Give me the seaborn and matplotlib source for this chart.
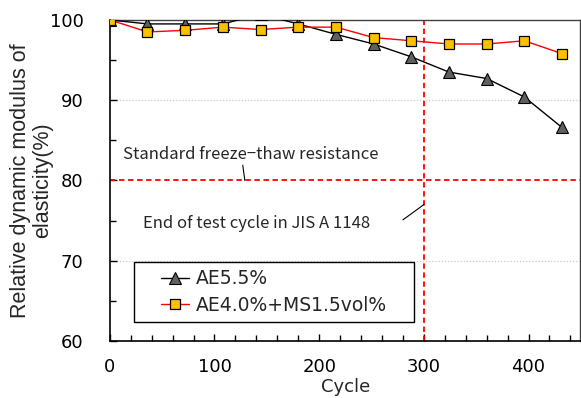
import pandas as pd
import seaborn as sns
import matplotlib.pyplot as plt
from matplotlib.ticker import MultipleLocator
from matplotlib.patches import Rectangle
from matplotlib.font_manager import FontProperties

# data
cycles = [0, 36, 72, 108, 144, 180, 216, 252, 288, 324, 360, 396, 432]
ae55 = [100.0, 99.5, 99.5, 99.5, 100.7, 99.5, 98.2, 97.0, 95.4, 93.5, 92.7, 90.4, 86.6]
ae40_ms = [100.0, 98.5, 98.7, 99.1, 98.8, 99.1, 99.1, 97.8, 97.4, 97.0, 97.0, 97.4, 95.8]
labels = ["AE5.5%", "AE4.0%+MS1.5vol%"]

df1 = pd.DataFrame({"Cycle": cycles, "E": ae55, "series": labels[0]})
df2 = pd.DataFrame({"Cycle": cycles, "E": ae40_ms, "series": labels[1]})

sns.set_style("ticks")
plt.rcParams['font.family'] = ['DejaVu Sans']

fig = plt.figure(figsize=(5.81, 3.98), dpi=100)
ax = fig.add_axes([0.189, 0.143, 0.809, 0.807])

# grid and reference lines
for yv in [70, 90]:
    ax.axhline(yv, color="#c8c8c8", lw=0.9, ls=(0, (1, 1.5)), zorder=0)
ax.axhline(80, color="#ff0000", lw=1.3, ls=(0, (3, 2)), zorder=1)
ax.axvline(300, color="#ff0000", lw=1.3, ls=(0, (3, 2)), zorder=1)

sns.lineplot(data=df1, x="Cycle", y="E", ax=ax, color="black", lw=1.0,
             marker="^", markersize=8, markerfacecolor="#606060",
             markeredgecolor="black", markeredgewidth=0.8, label=labels[0], zorder=3)
sns.lineplot(data=df2, x="Cycle", y="E", ax=ax, color="#ff0000", lw=1.0,
             marker="s", markersize=7, markerfacecolor="#ffc000",
             markeredgecolor="black", markeredgewidth=0.9, label=labels[1], zorder=4)

ax.set_xlim(0, 449)
ax.set_ylim(60, 100)
ax.xaxis.set_major_locator(MultipleLocator(100))
ax.xaxis.set_minor_locator(MultipleLocator(20))
ax.yaxis.set_major_locator(MultipleLocator(10))
ax.yaxis.set_minor_locator(MultipleLocator(5))
ax.tick_params(axis="both", which="both", direction="in", labelsize=13, colors="black")
ax.tick_params(axis="both", which="major", length=5, width=1)
ax.tick_params(axis="both", which="minor", length=4, width=1)
ax.tick_params(axis="x", which="both", pad=12)
ax.tick_params(axis="y", which="both", pad=19)
for side in ["left", "bottom"]:
    ax.spines[side].set_color("black")
    ax.spines[side].set_linewidth(1.2)
for side in ["top", "right"]:
    ax.spines[side].set_color("#404040")
    ax.spines[side].set_linewidth(1.0)

ax.set_xlabel("Cycle", fontsize=13)
ax.xaxis.set_label_coords(0.502, -0.115)
ylab_font = FontProperties(family="Liberation Sans", size=15.5)
ax.set_ylabel("Relative dynamic modulus of\nelasticity(%)", fontproperties=ylab_font,
              linespacing=1.05)
ax.yaxis.set_label_coords(-0.121, 0.5)

jp = ['Noto Sans CJK JP', 'DejaVu Sans']
ax.text(12.4, 83.2, "Standard freeze−thaw resistance", fontsize=12, family=jp,
        va="center", ha="left")
ax.plot([127, 129], [81.9, 80.0], color="black", lw=0.8)
ax.text(31.5, 74.6, "End of test cycle in JIS A 1148", fontsize=12, family=jp,
        va="center", ha="left")
ax.plot([280, 300], [75.1, 77.0], color="black", lw=0.8)

# legend frame drawn as its own box, entries placed inside it
ax.add_patch(Rectangle((0.051, 0.059), 0.596, 0.187, transform=ax.transAxes,
                       facecolor="white", edgecolor="black", lw=1.0, zorder=5))
leg = ax.legend(loc="center left", bbox_to_anchor=(0.1085, 0.153), frameon=False,
                fontsize=13.5, handlelength=1.5, handletextpad=0.35,
                borderpad=0, borderaxespad=0, labelspacing=0.4)
leg.set_zorder(6)

fig.savefig("out.png", dpi=100)
